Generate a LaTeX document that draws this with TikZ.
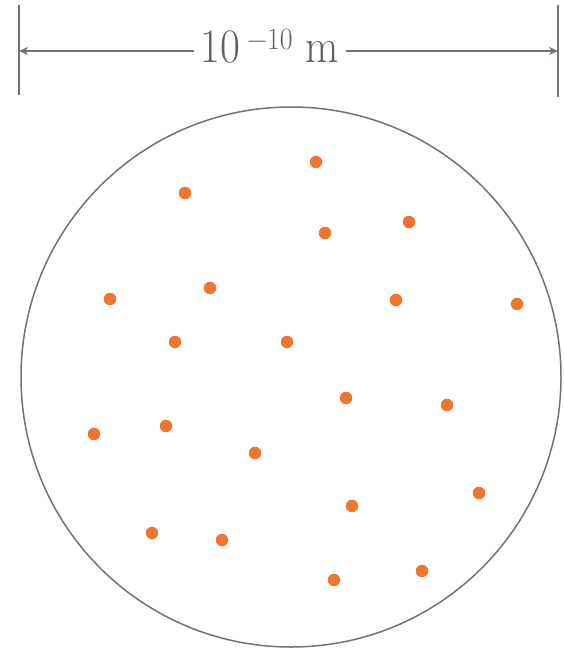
\documentclass[tikz,border=0pt]{standalone}
\usepackage{tikz}
\usetikzlibrary{arrows.meta}
\definecolor{rimgray}{RGB}{120, 112, 110}
\definecolor{dotorange}{RGB}{240, 118, 48}

\begin{document}
\begin{tikzpicture}[
    x=1pt, y=-1pt, >=Stealth,
    tick/.style={draw=rimgray, line width=1.6pt},
    dimline/.style={draw=rimgray, line width=1.4pt, ->, >={Stealth[length=9pt, width=8pt]}},
    rim/.style={draw=rimgray, line width=1.5pt},
    electron/.style={circle, fill=dotorange, inner sep=0pt, minimum size=12.5pt}
  ]
    \useasboundingbox (0,0) rectangle (563,650);
    % scale bar
    \coordinate (ltop) at (19,5);
    \coordinate (lbot) at (19,95);
    \coordinate (rtop) at (558,5);
    \coordinate (rbot) at (558,97);
    \coordinate (lend) at (19,51);
    \coordinate (rend) at (558,51);
    \draw[tick] (ltop) -- (lbot);
    \draw[tick] (rtop) -- (rbot);
    \node (size) [text=rimgray!85!black, anchor=base, inner xsep=7pt] at (270,63)
      {\scalebox{0.9}[1]{\fontsize{48}{50}\selectfont 10\hspace{0.15em}\raisebox{13pt}{\fontsize{31}{32}\selectfont\char"2212 10}\hspace{0.3em}m}};
    \draw[dimline] (size.west |- lend) -- (lend);
    \draw[dimline, line width=2pt] (size.east |- rend) -- (rend);
    % atom
    \node (atom) [rim, circle, minimum size=540pt, inner sep=0pt] at (291,377) {};
    \foreach \px/\py [count=\i] in {316/162, 185/193, 325/233, 409/222, 110/299, 210/288, 396/300, 517/304, 175/342, 287/342, 346/398, 447/405, 94/434, 166/426, 255/453, 352/506, 479/493, 152/533, 222/540, 334/580, 422/571}
      \node (e\i) [electron] at (\px,\py) {};
\end{tikzpicture}
\end{document}
